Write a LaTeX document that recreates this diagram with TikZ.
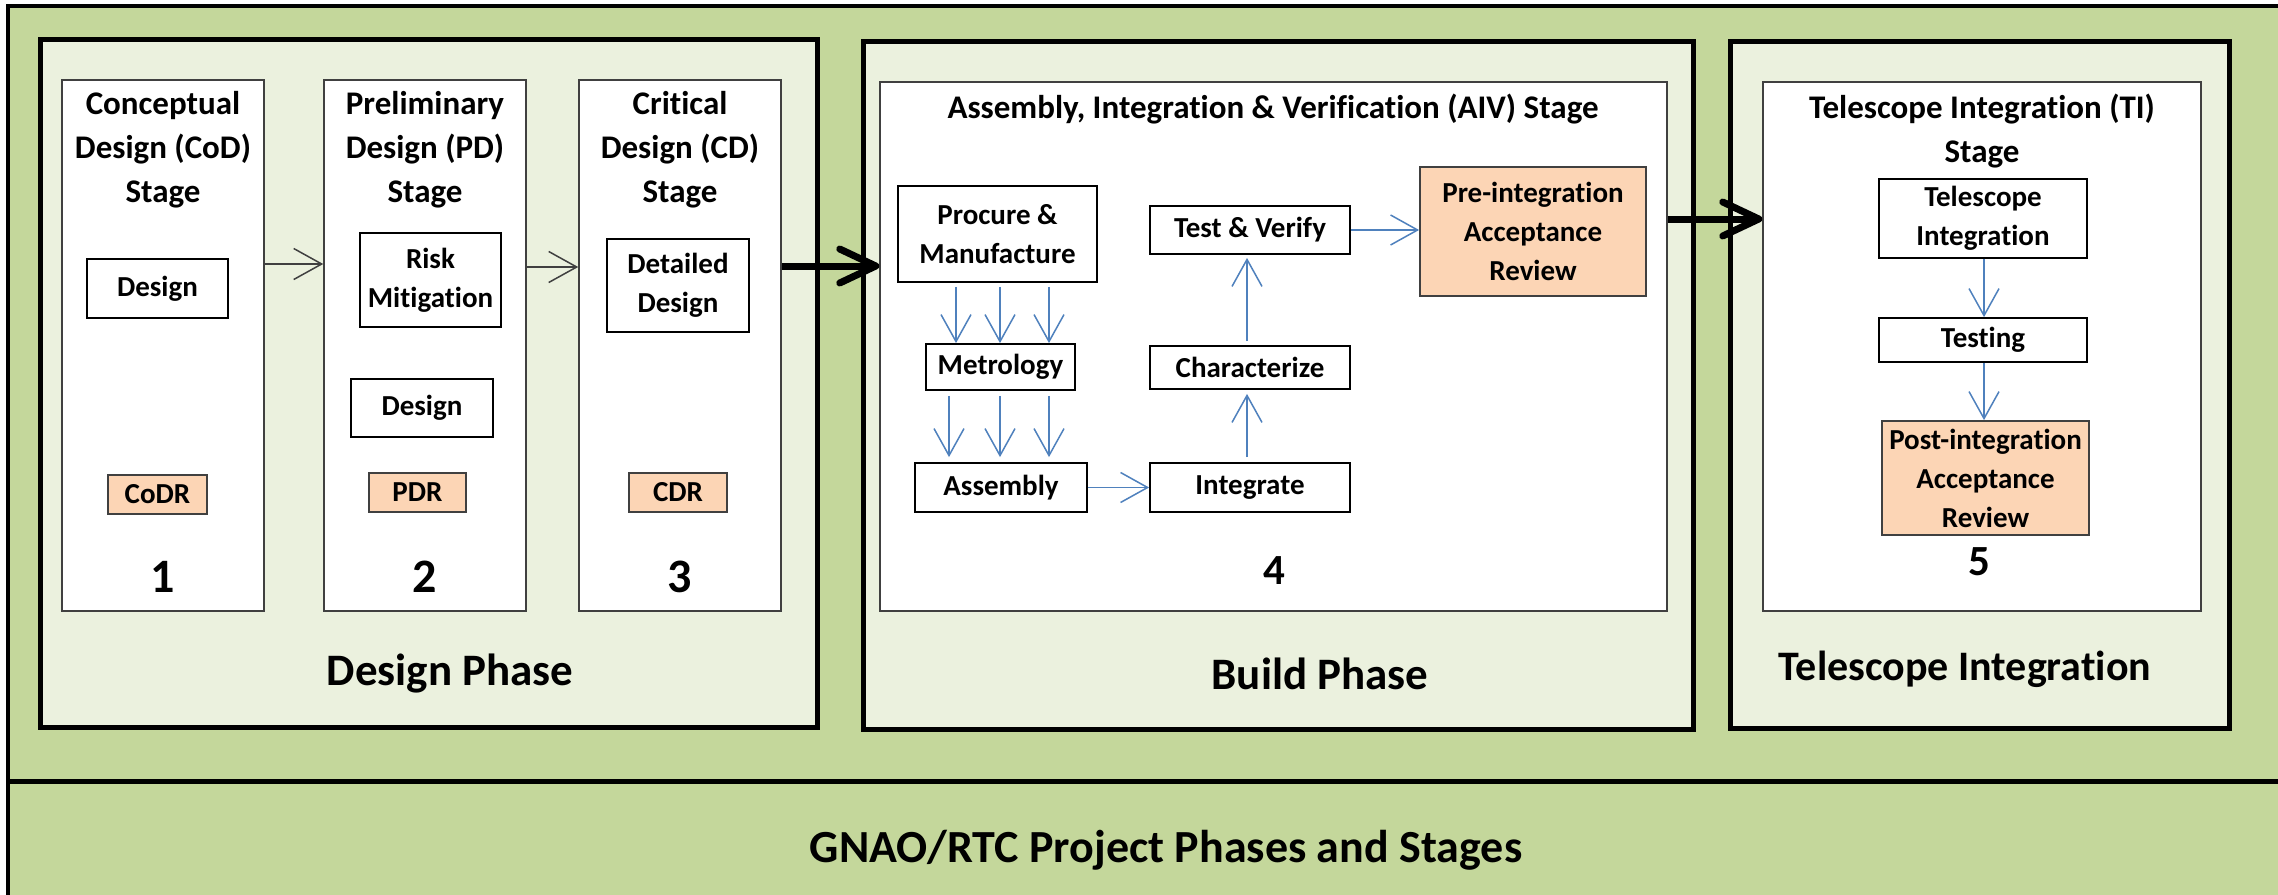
\documentclass[tikz,border=0pt]{standalone}
\usepackage{fontspec}
\setmainfont{Carlito}[Ligatures=NoCommon]
\usetikzlibrary{arrows.meta}

\definecolor{outergreen}{HTML}{C4D79B}
\definecolor{phasefill}{HTML}{EBF1DE}
\definecolor{reviewfill}{HTML}{FCD5B5}
\definecolor{flowblue}{HTML}{4F81BD}
\definecolor{stageline}{HTML}{404040}

% rectangle node given by its corners: style, name, x1, y1, x2, y2, text
\newcommand{\rectnode}[7]{%
  \node[#1, minimum width={(#5-#3)*0.5pt}, minimum height={(#6-#4)*0.5pt}]
    (#2) at ({(#3+#5)/2},{(#4+#6)/2}) {#7};}

\tikzset{
  phasebox/.style={draw=black, line width=2.5pt, fill=phasefill, inner sep=0pt},
  stagebox/.style={draw=stageline, line width=0.75pt, fill=white, inner sep=0pt},
  taskbox/.style={draw=black, line width=0.9pt, fill=white, inner sep=0pt,
    align=center, font=\fontsize{14.5}{19.5}\selectfont\bfseries},
  reviewbox/.style={taskbox, draw=stageline, fill=reviewfill},
  titletext/.style={align=center, inner sep=0pt,
    font=\fontsize{16.5}{22}\selectfont\bfseries},
  bignum/.style={inner sep=0pt, font=\fontsize{24}{24}\selectfont\bfseries},
  smallnum/.style={inner sep=0pt, font=\fontsize{21.5}{22}\selectfont\bfseries},
  phaselabel/.style={inner sep=0pt, font=\fontsize{22.5}{26}\selectfont\bfseries},
  flow/.style={draw=flowblue, line width=0.75pt,
    -{Straight Barb[length=13.5pt, width=15pt]}},
  stageflow/.style={draw=stageline, line width=0.75pt,
    -{Straight Barb[length=14pt, width=15.5pt]}},
  bigflow/.style={draw=black, line width=3.5pt,
    -{Straight Barb[length=18pt, width=17pt, round]}},
}

\begin{document}
\begin{tikzpicture}[x=0.5pt, y=-0.5pt]
\useasboundingbox (0,0) rectangle (2278,894);

% project frame and caption band
\fill[white] (0,0) rectangle (2278,894);
\draw[line width=2pt, fill=outergreen] (8,6) rectangle (2300,910);
\draw[line width=2.5pt] (8,781) -- (2300,781);
\node[inner sep=0pt, font=\fontsize{23}{26}\selectfont\bfseries] (caption) at (1166,850)
  {GNAO/RTC Project Phases and Stages};

% phases
\rectnode{phasebox}{design}{40}{39}{817}{727}{}
\rectnode{phasebox}{build}{863}{41}{1693}{729}{}
\rectnode{phasebox}{integ}{1730}{41}{2229}{728}{}

\node[phaselabel] (designlbl) at (450,674) {Design Phase};
\node[phaselabel] (buildlbl) at (1320,674) {Build Phase};
\node[inner sep=0pt, font=\fontsize{21}{24}\selectfont\bfseries] (integlbl) at (1965,669)
  {Telescope Integration};

% stages
\rectnode{stagebox}{s1}{62}{80}{264}{611}{}
\rectnode{stagebox}{s2}{324}{80}{526}{611}{}
\rectnode{stagebox}{s3}{579}{80}{781}{611}{}
\rectnode{stagebox}{aiv}{880}{82}{1667}{611}{}
\rectnode{stagebox}{ti}{1763}{82}{2201}{611}{}

\node[titletext] (s1t) at (163,150) {Conceptual\\Design (CoD)\\Stage};
\node[titletext] (s2t) at (425,150) {Preliminary\\Design (PD)\\Stage};
\node[titletext] (s3t) at (680,150) {Critical\\Design (CD)\\Stage};
\node[titletext] (aivt) at (1273,109) {Assembly, Integration \& Verification (AIV) Stage};
\node[titletext] (tit) at (1982,131) {Telescope Integration (TI)\\Stage};

% design stages content
\rectnode{taskbox}{cdes}{87}{259}{228}{318}{Design}
\rectnode{taskbox}{risk}{360}{233}{501}{327}{Risk\\Mitigation}
\rectnode{taskbox}{pdes}{351}{379}{493}{437}{Design}
\rectnode{taskbox}{ddes}{607}{239}{749}{332}{Detailed\\Design}
\rectnode{reviewbox}{codr}{108}{475}{207}{514}{CoDR}
\rectnode{reviewbox}{pdr}{369}{473}{466}{512}{PDR}
\rectnode{reviewbox}{cdr}{629}{473}{727}{512}{CDR}

\node[bignum] (n1) at (163,577) {1};
\node[bignum] (n2) at (425,577) {2};
\node[bignum] (n3) at (680,577) {3};

% AIV stage content
\rectnode{taskbox}{proc}{898}{186}{1097}{282}{Procure \&\\Manufacture}
\rectnode{taskbox}{metro}{926}{344}{1075}{390}{Metrology}
\rectnode{taskbox}{asm}{915}{463}{1087}{512}{Assembly}
\rectnode{taskbox}{intg}{1150}{463}{1350}{512}{Integrate}
\rectnode{taskbox}{char}{1150}{346}{1350}{389}{Characterize}
\rectnode{taskbox}{test}{1150}{206}{1350}{254}{Test \& Verify}
\rectnode{reviewbox}{pre}{1420}{167}{1646}{296}{Pre-integration\\Acceptance\\Review}
\node[smallnum] (n4) at (1274,571) {4};

% TI stage content
\rectnode{taskbox}{tint}{1879}{179}{2087}{258}{Telescope\\Integration}
\rectnode{taskbox}{tst}{1879}{318}{2087}{362}{Testing}
\rectnode{reviewbox}{post}{1882}{421}{2089}{535}{Post-integration\\Acceptance\\Review}
\node[smallnum] (n5) at (1979,562) {5};

% flow between design stages
\draw[stageflow] ([yshift=40.75pt]s1.east) -- ([yshift=40.75pt]s2.west);
\draw[stageflow] ([yshift=39.25pt]s2.east) -- ([yshift=39.25pt]s3.west);

% flow between phases
\draw[bigflow] ([yshift=39.75pt]s3.east) -- ([yshift=40.25pt]aiv.west);
\draw[bigflow] ([yshift=63.75pt]aiv.east) -- ([yshift=63.75pt]ti.west);

% AIV flow
\foreach \xx in {956,1000,1049}
  \draw[flow, shorten <=2pt] (proc.south -| \xx,0) -- (metro.north -| \xx,0);
\foreach \xx in {949,1000,1049}
  \draw[flow, shorten <=2.5pt, shorten >=2.5pt] (metro.south -| \xx,0) -- (asm.north -| \xx,0);
\draw[flow] (asm.east) -- (asm.east -| intg.west);
\draw[flow, shorten <=2.5pt, shorten >=2pt] (intg.north -| 1247,0) -- (char.south -| 1247,0);
\draw[flow, shorten <=2pt, shorten >=1.5pt] (char.north -| 1247,0) -- (test.south -| 1247,0);
\draw[flow] (test.east) -- (test.east -| pre.west);

% TI flow
\draw[flow] (tint.south -| 1984,0) -- (tst.north -| 1984,0);
\draw[flow] (tst.south -| 1984,0) -- (post.north -| 1984,0);
\end{tikzpicture}
\end{document}
